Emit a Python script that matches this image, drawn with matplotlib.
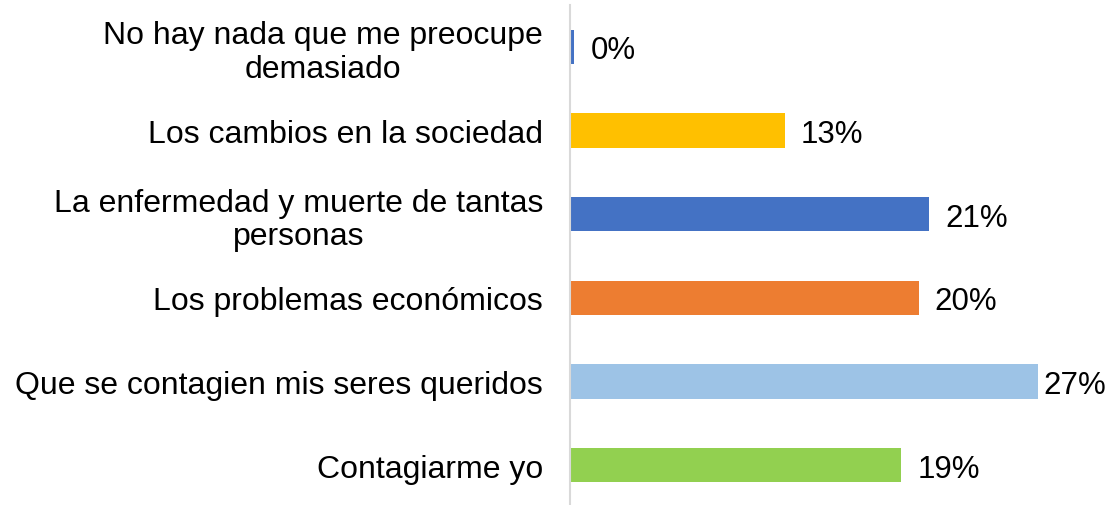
import matplotlib
matplotlib.use("Agg")
import matplotlib.pyplot as plt

plt.rcParams['font.family'] = ['Liberation Sans', 'DejaVu Sans']

# data, top to bottom as in the chart
categories = ['No hay nada que me preocupe\ndemasiado',
              'Los cambios en la sociedad',
              'La enfermedad y muerte de tantas\npersonas',
              'Los problemas económicos',
              'Que se contagien mis seres queridos',
              'Contagiarme yo']
values = [0.25, 12.4, 20.7, 20.1, 27.0, 19.1]
value_labels = ['0%', '13%', '21%', '20%', '27%', '19%']
colors = ['#4472C4', '#FFC000', '#4472C4', '#ED7D31', '#9DC3E6', '#92D050']

fig = plt.figure(figsize=(11.13, 5.06), dpi=100)
ax = fig.add_axes([570/1113, 1 - 508/506, 1 - 570/1113, 502/506])

pos = list(range(len(categories)))
ax.barh(pos, values, height=0.41, color=colors)
ax.set_ylim(len(categories) - 0.5, -0.5)
ax.set_xlim(0, 31.3)

ax.set_yticks(pos)
ax.set_yticklabels(categories, fontsize=23, multialignment='center',
                   linespacing=1.15)
ax.tick_params(axis='y', length=0, pad=19.5)
ax.set_xticks([])

for s in ['top', 'right', 'bottom']:
    ax.spines[s].set_visible(False)
ax.spines['left'].set_color('#D9D9D9')
ax.spines['left'].set_linewidth(1.5)

# label gap in pixels; the longest bar's label is pushed in to fit the figure
for p, v, lab in zip(pos, values, value_labels):
    gap = 5 if v == max(values) else 16
    ax.annotate(lab, (v, p), xytext=(gap * 0.72, -2.5), textcoords='offset points',
                va='center', ha='left', fontsize=22.5, clip_on=False)

fig.savefig('out.png', dpi=100)
